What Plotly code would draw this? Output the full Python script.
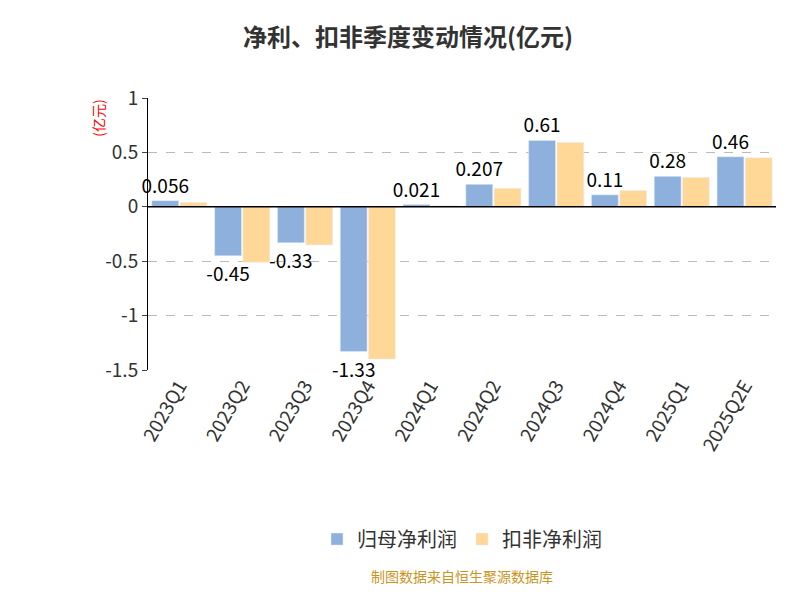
import plotly.graph_objects as go

cats = ["2023Q1","2023Q2","2023Q3","2023Q4","2024Q1","2024Q2","2024Q3","2024Q4","2025Q1","2025Q2E"]
net = [0.056,-0.45,-0.33,-1.33,0.021,0.207,0.61,0.11,0.28,0.46]
deducted = [0.04,-0.51,-0.35,-1.40,0.01,0.17,0.59,0.15,0.27,0.45]
net_labels = ["0.056","-0.45","-0.33","-1.33","0.021","0.207","0.61","0.11","0.28","0.46"]

fig = go.Figure()
fig.add_bar(x=cats, y=net, name="归母净利润", marker_color="#8EB0DD",
            text=net_labels, textposition="outside", cliponaxis=False,
            textfont=dict(size=19, color="black"))
fig.add_bar(x=cats, y=deducted, name="扣非净利润", marker_color="#FFD898")
fig.update_layout(
    width=800, height=600, plot_bgcolor="white", paper_bgcolor="white",
    font=dict(family="Noto Sans CJK SC", size=19, color="#333"),
    title=dict(text="<b>净利、扣非季度变动情况(亿元)</b>", x=0.5, y=0.965, font=dict(size=24, color="#333")),
    margin=dict(l=140, r=32, t=90, b=238),
    bargap=0.1, bargroupgap=0.05,
    uniformtext=dict(minsize=19, mode="show"),
    legend=dict(orientation="h", x=0.5, xanchor="center", y=-0.55, font=dict(size=20)),
    annotations=[
        dict(text="(亿元)", x=-0.1, y=1.0, xref="paper", yref="paper", textangle=-90,
             showarrow=False, font=dict(size=14, color="red"), yanchor="top"),
        dict(text="制图数据来自恒生聚源数据库", x=0.5, y=-0.8, xref="paper", yref="paper",
             showarrow=False, font=dict(size=14, color="#C8961E")),
    ],
)
fig.update_yaxes(range=[-1.5, 1], showgrid=True, gridcolor="#bbb", griddash="dash",
                 showline=True, linecolor="black", zeroline=False, ticks="outside",
                 tickvals=[-1.5,-1,-0.5,0,0.5,1], ticktext=["-1.5","-1","-0.5","0","0.5","1"])
fig.update_xaxes(tickangle=-60, showline=False, ticks="")
fig.add_hline(y=0, line_color="black", line_width=1.5)
fig.write_html("out.html")
